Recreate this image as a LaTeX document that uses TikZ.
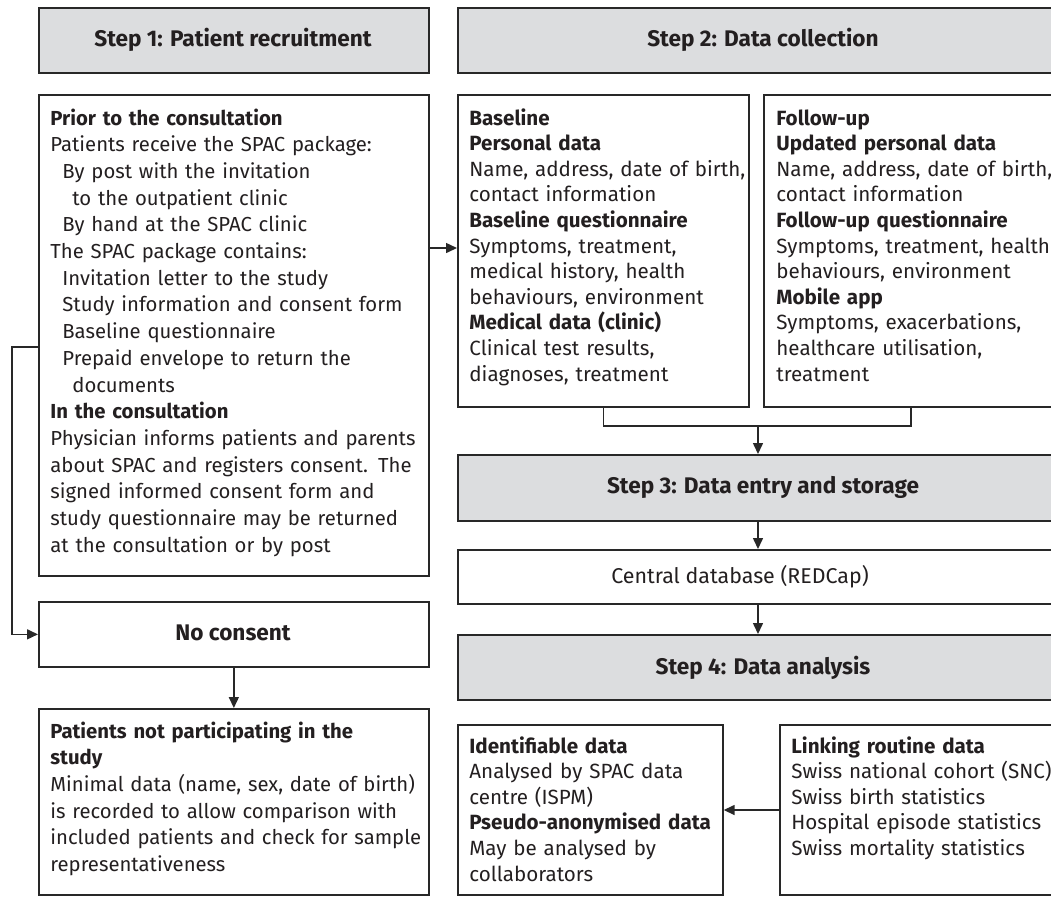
\documentclass[tikz,border=0pt]{standalone}
\usepackage{fontspec}
\setmainfont{Fira Sans}
\usetikzlibrary{arrows.meta}

\definecolor{stepgray}{RGB}{220,221,223}
\definecolor{linegray}{RGB}{40,40,40}
\definecolor{textdark}{RGB}{35,31,32}

\newcommand{\leftfont}{\fontsize{10.15}{13.35}\selectfont}
\newcommand{\rightfont}{\fontsize{10.3}{12.8}\selectfont}
\newcommand{\titlefont}{\fontsize{11.3}{13}\selectfont\bfseries}

\tikzset{
  stepbox/.style={draw=linegray, fill=stepgray, line width=0.85pt, anchor=north west, inner sep=0pt},
  panel/.style={draw=linegray, line width=0.85pt, anchor=north west, inner sep=0pt},
  title/.style={anchor=base, inner sep=0pt, font=\titlefont, text=textdark},
  lefttext/.style={anchor=base west, inner sep=0pt, align=left, text width=#1, font=\leftfont, text=textdark},
  righttext/.style={anchor=base west, inner sep=0pt, align=left, text width=#1, font=\rightfont, text=textdark},
  flow/.style={draw=linegray, line width=0.75pt, -{Triangle[length=5.5pt,width=5pt]}},
  mergeline/.style={draw=linegray, line width=0.75pt},
}

\begin{document}
\begin{tikzpicture}[x=0.5pt, y=-0.5pt]
  \useasboundingbox (0,0) rectangle (1051,896);
  \clip (0,0) rectangle (1051,896);

  % Step 1 column
  \node[stepbox, minimum width=195pt, minimum height=32.5pt] (recruit) at (38,7) {};
  \node[title] (recruitlbl) at (233,46) {Step 1: Patient recruitment};

  \node[panel, minimum width=195pt, minimum height=240.5pt] (prior) at (38,94) {};
  \node[lefttext=200pt] (priortxt) at (50,125) {%
    \textbf{Prior to the consultation}\\
    Patients receive the SPAC package:\\
    \hspace*{6pt}By post with the invitation\\
    \hspace*{11pt}to the outpatient clinic\\
    \hspace*{6pt}By hand at the SPAC clinic\\
    The SPAC package contains:\\
    \hspace*{6pt}Invitation letter to the study\\
    \hspace*{6pt}Study information and consent form\\
    \hspace*{6pt}Baseline questionnaire\\
    \hspace*{6pt}Prepaid envelope to return the\\
    \hspace*{11pt}documents\\
    \textbf{In the consultation}\\
    Physician informs patients and parents\\
    about SPAC and registers consent. The\\
    signed informed consent form and\\
    study questionnaire may be returned\\
    at the consultation or by post};

  \node[panel, minimum width=195pt, minimum height=32.5pt] (noconsent) at (38,601) {};
  \node[title] (noconsentlbl) at (233,640) {No consent};

  \node[panel, minimum width=195pt, minimum height=93pt] (notpart) at (38,708) {};
  \node[lefttext=200pt] (notparttxt) at (50,738) {%
    \textbf{Patients not participating in the}\\
    \textbf{study}\\
    Minimal data (name, sex, date of birth)\\
    is recorded to allow comparison with\\
    included patients and check for sample\\
    representativeness};

  % Step 2 column
  \node[stepbox, minimum width=306.5pt, minimum height=32.5pt] (collect) at (457,7) {};
  \node[title] (collectlbl) at (763,46) {Step 2: Data collection};

  \node[panel, minimum width=145.5pt, minimum height=156pt] (baseline) at (457,94) {};
  \node[righttext=200pt] (baselinetxt) at (469,125) {%
    \textbf{Baseline}\\
    \textbf{Personal data}\\
    Name, address, date of birth,\\
    contact information\\
    \textbf{Baseline questionnaire}\\
    Symptoms, treatment,\\
    medical history, health\\
    behaviours, environment\\
    \textbf{Medical data (clinic)}\\
    Clinical test results,\\
    diagnoses, treatment};

  \node[panel, minimum width=147.5pt, minimum height=156pt] (followup) at (763,94) {};
  \node[righttext=200pt] (followuptxt) at (776,125) {%
    \textbf{Follow-up}\\
    \textbf{Updated personal data}\\
    Name, address, date of birth,\\
    contact information\\
    \textbf{Follow-up questionnaire}\\
    Symptoms, treatment, health\\
    behaviours, environment\\
    \textbf{Mobile app}\\
    Symptoms, exacerbations,\\
    healthcare utilisation,\\
    treatment};

  % Step 3
  \node[stepbox, minimum width=306.5pt, minimum height=33pt] (entry) at (457,454) {};
  \node[title] (entrylbl) at (763,493) {Step 3: Data entry and storage};

  \node[panel, minimum width=306.5pt, minimum height=27pt] (database) at (457,549) {};
  \node[anchor=base, inner sep=0pt, font=\fontsize{10.7}{13}\selectfont, text=textdark] (databaselbl) at (740,583) {Central database (REDCap)};

  % Step 4
  \node[stepbox, minimum width=306.5pt, minimum height=32.5pt] (analysis) at (457,634) {};
  \node[title] (analysislbl) at (763,674) {Step 4: Data analysis};

  \node[panel, minimum width=132.5pt, minimum height=85pt] (identif) at (457,724) {};
  \node[righttext=200pt] (identiftxt) at (469,753) {%
    \textbf{Identifiable data}\\
    Analysed by SPAC data\\
    centre (ISPM)\\
    \textbf{Pseudo-anonymised data}\\
    May be analysed by\\
    collaborators};

  \node[panel, minimum width=150pt, minimum height=85pt] (linking) at (779,724) {};
  \node[righttext=200pt] (linkingtxt) at (791,753) {%
    \textbf{Linking routine data}\\
    Swiss national cohort (SNC)\\
    Swiss birth statistics\\
    Hospital episode statistics\\
    Swiss mortality statistics};

  % connectors
  \coordinate (bend) at (12,347);
  \coordinate (toright) at (440,248);
  \coordinate (merge) at (758,426);
  \coordinate (fufoot) at (911,406);
  \coordinate (back) at (750,810);

  \draw[flow] (prior.west |- bend) -- (bend) |- (noconsent.west);
  \draw[flow] (noconsent.south) -- (notpart.north);
  \draw[flow] (prior.east |- toright) -- (baseline.west |- toright);
  \draw[mergeline] (baseline.south) |- (merge) -| (fufoot);
  \draw[flow] (merge) -- (entry.north -| merge);
  \draw[flow] (entry.south -| merge) -- (database.north -| merge);
  \draw[flow] (database.south -| merge) -- (analysis.north -| merge);
  \draw[flow] (linking.west |- back) -- (identif.east |- back);
\end{tikzpicture}
\end{document}
